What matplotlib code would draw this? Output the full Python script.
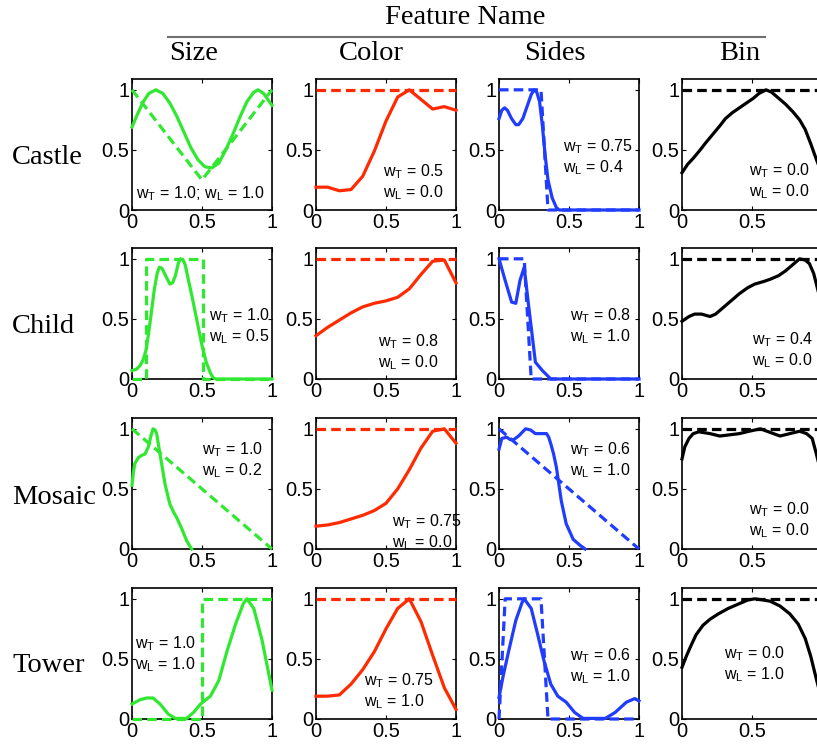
import matplotlib.pyplot as plt

plt.rcParams["font.family"] = ["Liberation Sans", "DejaVu Sans"]
plt.rcParams["mathtext.default"] = "regular"

# Figure layout in pixels of the 817x744 canvas.
W, H = 817, 744
col_left = [132, 316, 499, 682]
row_top = [79, 248, 418, 588]
ax_w, ax_h = 140, 131

features = ["Size", "Color", "Sides", "Bin"]
feature_colors = ["#30e830", "#ff2a00", "#1f3cff", "black"]
objects = ["Castle", "Child", "Mosaic", "Tower"]

# ---- Castle row ----
size_castle_x = [0, 0.04, 0.08, 0.12, 0.17, 0.22, 0.27, 0.32, 0.37, 0.42, 0.47, 0.52, 0.57,
                 0.62, 0.67, 0.72, 0.77, 0.82, 0.87, 0.9, 0.94, 0.97, 1.0]
size_castle_y = [0.69, 0.80, 0.90, 0.97, 1.0, 0.97, 0.89, 0.78, 0.65, 0.52, 0.42, 0.36, 0.35,
                 0.39, 0.5, 0.63, 0.77, 0.9, 0.98, 1.0, 0.97, 0.92, 0.87]
size_castle_tx = [0, 0.5, 1]
size_castle_ty = [1.0, 0.25, 1.0]

color_castle_x = [i / 12 for i in range(13)]
color_castle_y = [0.19, 0.19, 0.16, 0.17, 0.28, 0.49, 0.74, 0.94, 1.0, 0.92, 0.84, 0.86, 0.83]
color_castle_tx = [0, 1]
color_castle_ty = [1, 1]

sides_castle_x = [0, 0.02, 0.04, 0.06, 0.09, 0.12, 0.14, 0.17, 0.2, 0.23, 0.25, 0.27, 0.29,
                  0.31, 0.33, 0.35, 0.38, 0.41, 0.43, 1.0]
sides_castle_y = [0.76, 0.83, 0.85, 0.83, 0.76, 0.71, 0.71, 0.76, 0.86, 0.96, 1.0, 0.98, 0.9,
                  0.7, 0.45, 0.25, 0.1, 0.02, 0.0, 0.0]
sides_castle_tx = [0, 0.30, 0.35, 1]
sides_castle_ty = [1, 1, 0, 0]

bin_castle_x = [0, 0.04, 0.08, 0.13, 0.17, 0.22, 0.27, 0.31, 0.36, 0.41, 0.46, 0.51, 0.55,
                0.6, 0.64, 0.69, 0.74, 0.79, 0.84, 0.88, 0.92, 0.96, 1.0]
bin_castle_y = [0.31, 0.38, 0.43, 0.5, 0.56, 0.63, 0.7, 0.76, 0.81, 0.85, 0.89, 0.93, 0.97,
                1.0, 0.98, 0.93, 0.88, 0.82, 0.75, 0.67, 0.55, 0.42, 0.3]
bin_castle_tx = [0, 1]
bin_castle_ty = [1, 1]

# ---- Child row ----
size_child_x = [0, 0.03, 0.057, 0.08, 0.1, 0.12, 0.14, 0.16, 0.18, 0.195, 0.215, 0.24, 0.27,
                0.29, 0.31, 0.33, 0.345, 0.365, 0.38, 0.4, 0.43, 0.47, 0.5, 0.53, 0.56, 0.58, 0.6, 1.0]
size_child_y = [0.07, 0.08, 0.11, 0.16, 0.24, 0.39, 0.57, 0.75, 0.88, 0.93, 0.92, 0.86, 0.79,
                0.8, 0.86, 0.96, 1.0, 0.99, 0.95, 0.84, 0.68, 0.45, 0.28, 0.14, 0.05, 0.01, 0.0, 0.0]
size_child_tx = [0, 0.1, 0.1, 0.505, 0.505, 1]
size_child_ty = [0, 0, 1, 1, 0, 0]

color_child_x = [i / 12 for i in range(13)]
color_child_y = [0.36, 0.43, 0.49, 0.55, 0.60, 0.63, 0.65, 0.68, 0.75, 0.87, 0.98, 0.99, 0.8]
color_child_tx = [0, 1]
color_child_ty = [1, 1]

sides_child_x = [0, 0.044, 0.09, 0.12, 0.15, 0.18, 0.21, 0.26, 0.31, 0.37, 1.0]
sides_child_y = [1.0, 0.82, 0.64, 0.63, 0.82, 0.93, 0.625, 0.14, 0.07, 0.0, 0.0]
sides_child_tx = [0, 0.18, 0.23, 1]
sides_child_ty = [1, 1, 0, 0]

bin_child_x = [0, 0.05, 0.09, 0.14, 0.2, 0.24, 0.27, 0.34, 0.41, 0.47, 0.52, 0.58, 0.63,
               0.69, 0.74, 0.79, 0.84, 0.88, 0.91, 0.94, 0.96, 1.0]
bin_child_y = [0.48, 0.52, 0.54, 0.54, 0.52, 0.54, 0.57, 0.64, 0.71, 0.76, 0.79, 0.81, 0.83,
               0.86, 0.9, 0.95, 1.0, 0.99, 0.96, 0.88, 0.79, 0.6]
bin_child_tx = [0, 1]
bin_child_ty = [1, 1]

# ---- Mosaic row ----
size_mosaic_x = [0, 0.01, 0.02, 0.045, 0.07, 0.093, 0.117, 0.135, 0.15, 0.165, 0.176, 0.2,
                 0.236, 0.27, 0.3, 0.32, 0.355, 0.39, 0.426]
size_mosaic_y = [0.53, 0.64, 0.71, 0.76, 0.78, 0.79, 0.85, 0.94, 1.0, 0.99, 0.96, 0.79,
                 0.54, 0.375, 0.3, 0.26, 0.17, 0.07, 0.0]
size_mosaic_tx = [0, 1]
size_mosaic_ty = [1, 0]

color_mosaic_x = [i / 12 for i in range(13)]
color_mosaic_y = [0.19, 0.20, 0.22, 0.25, 0.28, 0.32, 0.38, 0.5, 0.66, 0.84, 0.98, 1.0, 0.88]
color_mosaic_tx = [0, 1]
color_mosaic_ty = [1, 1]

sides_mosaic_x = [0, 0.02, 0.056, 0.08, 0.105, 0.14, 0.19, 0.226, 0.26, 0.34, 0.355, 0.37,
                  0.39, 0.41, 0.445, 0.48, 0.53, 0.58, 0.615]
sides_mosaic_y = [0.83, 0.92, 0.93, 0.91, 0.91, 0.94, 1.0, 0.99, 0.96, 0.96, 0.93, 0.875,
                  0.79, 0.68, 0.40, 0.21, 0.08, 0.03, 0.0]
sides_mosaic_tx = [0, 1]
sides_mosaic_ty = [1, 0]

bin_mosaic_x = [0, 0.02, 0.05, 0.08, 0.12, 0.2, 0.27, 0.34, 0.41, 0.48, 0.56, 0.63, 0.7,
                0.77, 0.84, 0.89, 0.93, 0.96, 1.0]
bin_mosaic_y = [0.75, 0.85, 0.92, 0.96, 0.975, 0.96, 0.94, 0.95, 0.96, 0.98, 1.0, 0.97, 0.94,
                0.96, 0.98, 0.96, 0.92, 0.79, 0.6]
bin_mosaic_tx = [0, 1]
bin_mosaic_ty = [1, 1]

# ---- Tower row ----
size_tower_x = [0, 0.057, 0.105, 0.15, 0.2, 0.26, 0.31, 0.39, 0.44, 0.49, 0.56, 0.62, 0.68,
                0.74, 0.795, 0.82, 0.87, 0.93, 1.0]
size_tower_y = [0.125, 0.16, 0.175, 0.175, 0.125, 0.04, 0.005, 0.005, 0.055, 0.125, 0.19,
                0.32, 0.57, 0.79, 0.96, 1.0, 0.92, 0.65, 0.24]
size_tower_tx = [0, 0.5, 0.5, 1]
size_tower_ty = [0, 0, 1, 1]

color_tower_x = [i / 12 for i in range(13)]
color_tower_y = [0.19, 0.19, 0.2, 0.29, 0.41, 0.56, 0.75, 0.92, 1.0, 0.81, 0.53, 0.26, 0.08]
color_tower_tx = [0, 1]
color_tower_ty = [1, 1]

sides_tower_x = [0, 0.03, 0.07, 0.12, 0.165, 0.18, 0.23, 0.275, 0.32, 0.37, 0.42, 0.48, 0.54,
                 0.6, 0.76, 0.83, 0.91, 0.97, 1.0]
sides_tower_y = [0.18, 0.36, 0.57, 0.82, 0.97, 1.0, 0.92, 0.71, 0.49, 0.29, 0.19, 0.14, 0.055,
                 0.005, 0.005, 0.055, 0.14, 0.17, 0.15]
sides_tower_tx = [0, 0.044, 0.30, 0.35, 1]
sides_tower_ty = [0, 1, 1, 0, 0]

bin_tower_x = [0, 0.03, 0.06, 0.1, 0.15, 0.2, 0.26, 0.33, 0.41, 0.47, 0.52, 0.58, 0.63, 0.7,
               0.77, 0.83, 0.88, 0.92, 0.96, 1.0]
bin_tower_y = [0.43, 0.52, 0.6, 0.7, 0.78, 0.83, 0.875, 0.92, 0.96, 0.99, 1.0, 0.99, 0.98,
               0.94, 0.875, 0.79, 0.67, 0.52, 0.33, 0.15]
bin_tower_tx = [0, 1]
bin_tower_ty = [1, 1]

learned = [
    [(size_castle_x, size_castle_y), (color_castle_x, color_castle_y), (sides_castle_x, sides_castle_y), (bin_castle_x, bin_castle_y)],
    [(size_child_x, size_child_y), (color_child_x, color_child_y), (sides_child_x, sides_child_y), (bin_child_x, bin_child_y)],
    [(size_mosaic_x, size_mosaic_y), (color_mosaic_x, color_mosaic_y), (sides_mosaic_x, sides_mosaic_y), (bin_mosaic_x, bin_mosaic_y)],
    [(size_tower_x, size_tower_y), (color_tower_x, color_tower_y), (sides_tower_x, sides_tower_y), (bin_tower_x, bin_tower_y)],
]
target = [
    [(size_castle_tx, size_castle_ty), (color_castle_tx, color_castle_ty), (sides_castle_tx, sides_castle_ty), (bin_castle_tx, bin_castle_ty)],
    [(size_child_tx, size_child_ty), (color_child_tx, color_child_ty), (sides_child_tx, sides_child_ty), (bin_child_tx, bin_child_ty)],
    [(size_mosaic_tx, size_mosaic_ty), (color_mosaic_tx, color_mosaic_ty), (sides_mosaic_tx, sides_mosaic_ty), (bin_mosaic_tx, bin_mosaic_ty)],
    [(size_tower_tx, size_tower_ty), (color_tower_tx, color_tower_ty), (sides_tower_tx, sides_tower_ty), (bin_tower_tx, bin_tower_ty)],
]

# weights (w_T, w_L) per panel
w_T = [["1.0", "0.5", "0.75", "0.0"],
       ["1.0", "0.8", "0.8", "0.4"],
       ["1.0", "0.75", "0.6", "0.0"],
       ["1.0", "0.75", "0.6", "0.0"]]
w_L = [["1.0", "0.0", "0.4", "0.0"],
       ["0.5", "0.0", "1.0", "0.0"],
       ["0.2", "0.0", "1.0", "0.0"],
       ["1.0", "1.0", "1.0", "1.0"]]
# label anchor (x, y of first line) in data coords
label_pos = [[(0.03, 0.14), (0.48, 0.32), (0.46, 0.53), (0.48, 0.33)],
             [(0.55, 0.53), (0.44, 0.31), (0.51, 0.53), (0.5, 0.33)],
             [(0.5, 0.83), (0.54, 0.23), (0.51, 0.83), (0.48, 0.33)],
             [(0.02, 0.625), (0.34, 0.32), (0.51, 0.53), (0.3, 0.54)]]

fig = plt.figure(figsize=(W / 100, H / 100), dpi=100)

for r in range(4):
    for c in range(4):
        ax = fig.add_axes([col_left[c] / W, 1 - (row_top[r] + ax_h) / H, ax_w / W, ax_h / H])
        color = feature_colors[c]
        tx, ty = target[r][c]
        ax.plot(tx, ty, color=color, lw=2.3, linestyle=(0, (3, 1.6)), clip_on=False, zorder=3)
        lx, ly = learned[r][c]
        ax.plot(lx, ly, color=color, lw=2.3, clip_on=False, zorder=4,
                solid_joinstyle="round")
        ax.set_xlim(0, 1)
        ax.set_ylim(0, 1.09)
        ax.set_xticks([0, 0.5, 1])
        ax.set_xticklabels(["0", "0.5", "1"])
        ax.set_yticks([0, 0.5, 1])
        ax.set_yticklabels(["0", "0.5", "1"])
        ax.tick_params(direction="in", length=3, width=0.8, labelsize=14.5,
                       top=True, right=True, pad=2)
        for s in ax.spines.values():
            s.set_linewidth(1.2)
        px, py = label_pos[r][c]
        if r == 0 and c == 0:
            ax.text(px, py, "w$_{T}$ = %s; w$_{L}$ = %s" % (w_T[r][c], w_L[r][c]),
                    fontsize=11.5, va="center", ha="left")
        else:
            ax.text(px, py, "w$_{T}$ = %s" % w_T[r][c], fontsize=11.5, va="center", ha="left")
            ax.text(px, py - 0.175, "w$_{L}$ = %s" % w_L[r][c], fontsize=11.5, va="center", ha="left")

serif = ["Liberation Serif", "DejaVu Serif"]
fig.text(465 / W, 1 - 17 / H, "Feature Name", family=serif, fontsize=20.5, ha="center", va="center")
fig.add_artist(plt.Line2D([168 / W, 765 / W], [1 - 37 / H, 1 - 37 / H], color="#707070", lw=1.5))
title_x = [194, 371, 555, 740]
for name, x in zip(features, title_x):
    fig.text(x / W, 1 - 53 / H, name, family=serif, fontsize=20.5, ha="center", va="center")
label_y = [157, 327, 497, 665]
for name, y in zip(objects, label_y):
    fig.text(12 / W, 1 - y / H, name, family=serif, fontsize=20.5, ha="left", va="center")

fig.savefig("out.png", dpi=100)
